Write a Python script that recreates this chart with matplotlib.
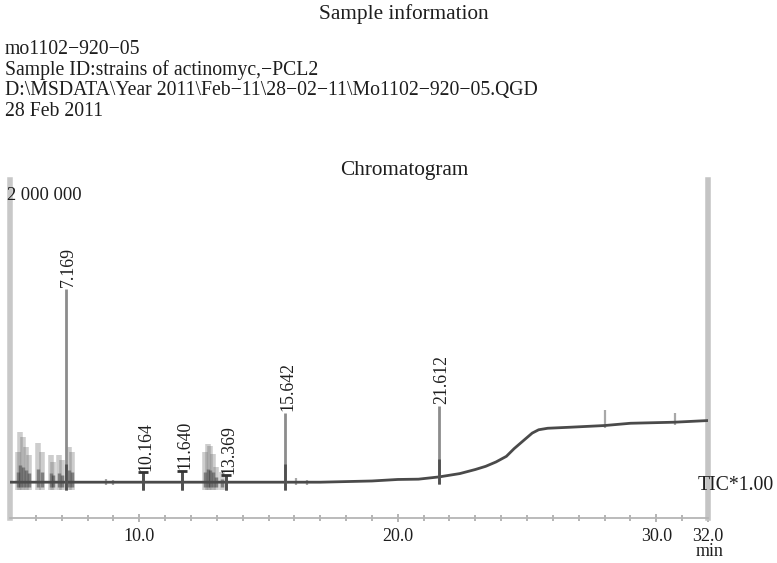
import matplotlib
matplotlib.use("Agg")
import matplotlib.pyplot as plt
import numpy as np

# ---------------- data ----------------
header_lines = ["mo1102\u2212920\u221205",
                "Sample ID:strains of actinomyc,\u2212PCL2",
                "D:\\MSDATA\\Year 2011\\Feb\u221211\\28\u221202\u221211\\Mo1102\u2212920\u221205.QGD",
                "28 Feb 2011"]

# baseline (retention time min, intensity)
base_t = [5.0, 8.0, 12.0, 17.0, 19.0, 20.0, 20.8, 21.6, 22.4, 23.0, 23.4, 23.8, 24.2, 24.5,
          24.9, 25.2, 25.45, 25.8, 26.7, 28.0, 29.0, 30.7, 32.0]
base_i = [0.0, 0.0, 0.0, 0.0, 0.008e6, 0.018e6, 0.020e6, 0.035e6, 0.057e6, 0.084e6, 0.105e6,
          0.134e6, 0.171e6, 0.222e6, 0.281e6, 0.325e6, 0.347e6, 0.357e6, 0.364e6, 0.375e6,
          0.390e6, 0.397e6, 0.408e6]

# labelled peaks
peak_labels = ["7.169", "10.164", "11.640", "13.369", "15.642", "21.612"]
peak_t = [7.169, 10.164, 11.640, 13.369, 15.642, 21.612]
peak_h = [1.28e6, 0.065e6, 0.075e6, 0.045e6, 0.46e6, 0.47e6]

# unlabelled small peaks
small_t = [8.7, 9.0, 16.06, 16.5, 28.03, 30.73]
small_h = [0.02e6, 0.015e6, 0.03e6, 0.015e6, 0.10e6, 0.06e6]

# unresolved clusters (blurred groups)
clus_t = [5.30, 5.40, 5.50, 5.60, 5.72, 6.10, 6.22, 6.58, 6.66, 6.88, 7.02, 7.28, 7.40,
          12.55, 12.65, 12.75, 12.85, 12.95, 13.20]
clus_h = [0.20e6, 0.33e6, 0.296e6, 0.23e6, 0.178e6, 0.257e6, 0.197e6, 0.178e6, 0.132e6,
          0.178e6, 0.145e6, 0.23e6, 0.197e6,
          0.197e6, 0.25e6, 0.237e6, 0.185e6, 0.10e6, 0.066e6]

xmajor = [10.0, 20.0, 30.0, 32.0]
xmajor_labels = ["10.0", "20.0", "30.0", "32.0"]
y_top_label = "2 000 000"

# ---------------- figure ----------------
W, H = 777, 563
fig = plt.figure(figsize=(W / 100, H / 100), dpi=100)
serif = ["Liberation Serif", "DejaVu Serif"]
tc = "#1e1e1e"

def fx(px):
    return px / W

def fy(py):
    return 1 - py / H

left, right, top, bottom = 10, 708, 180, 518
ax = fig.add_axes([fx(left), fy(bottom), (right - left) / W, (bottom - top) / H])
ax.set_xlim(5.0, 32.0)
ax.set_ylim(-0.237e6, 2.0e6)

bt = np.array(base_t)
bi = np.array(base_i)

def base_at(t):
    return np.interp(t, bt, bi)

below = 0.05e6

# clusters: blurred grey sticks
for t, h in zip(clus_t, clus_h):
    b = base_at(t)
    ax.vlines(t, b - below, b + h, color="#707070", lw=4.0, alpha=0.35, zorder=2)
    ax.vlines(t, b - below * 0.6, b + h * 0.35, color="#303030", lw=2.5, alpha=0.5, zorder=2)

for t, h in zip(small_t, small_h):
    b = base_at(t)
    ax.vlines(t, b - 0.02e6, b + h, color="#a8a8a8", lw=1.6, zorder=3)

# baseline trace
ax.plot(bt, bi, color="#4a4a4a", lw=2.0, zorder=4, solid_joinstyle="round")

# labelled peaks
for lab, t, h in zip(peak_labels, peak_t, peak_h):
    b = base_at(t)
    col = "#8c8c8c" if h > 0.3e6 else "#5a5a5a"
    ax.vlines(t, b - below, b + h, color=col, lw=2.0, zorder=5)
    ax.vlines(t, b - below, b + min(h, 0.12e6), color="#505050", lw=2.0, zorder=5)
    if h < 0.1e6:
        ax.plot([t], [b + h], marker="_", ms=7, mew=2, color="#333333", zorder=6)
    ax.annotate(lab, (t, b + h), xytext=(2, 1), textcoords="offset points",
                rotation=90, ha="center", va="bottom", fontsize=12.8,
                family=serif, color=tc, zorder=7)

# spines
ax.spines["top"].set_visible(False)
ax.spines["bottom"].set_color("#b5b5b5")
ax.spines["bottom"].set_linewidth(1.3)
ax.spines["left"].set_color("#c8c8c8")
ax.spines["left"].set_linewidth(4)
ax.spines["right"].set_color("#c4c4c4")
ax.spines["right"].set_linewidth(4)

ax.set_yticks([])
ax.set_xticks(xmajor)
ax.set_xticklabels(xmajor_labels, family=serif, fontsize=13, color=tc)
ax.set_xticks(np.arange(6, 32, 1.0), minor=True)
ax.tick_params(axis="x", which="both", direction="inout", length=6, width=1.2,
               color="#a8a8a8", pad=4)
ax.tick_params(axis="x", which="minor", length=5)

# texts
fig.text(fx(404), fy(14), "Sample information", ha="center", va="center",
         fontsize=15.3, family=serif, color=tc)
for i, line in enumerate(header_lines):
    fig.text(fx(5), fy(49 + i * 20.7), line, ha="left", va="center",
             fontsize=14.2, family=serif, color=tc)
fig.text(fx(404), fy(170), "Chromatogram", ha="center", va="center",
         fontsize=15.3, family=serif, color=tc)
fig.text(fx(7), fy(196), y_top_label, ha="left", va="center",
         fontsize=13.3, family=serif, color=tc)
fig.text(fx(698), fy(485), "TIC*1.00", ha="left", va="center",
         fontsize=14.2, family=serif, color=tc)
fig.text(fx(710), fy(552), "min", ha="center", va="center",
         fontsize=13, family=serif, color=tc)

fig.savefig("out.png", dpi=100)
